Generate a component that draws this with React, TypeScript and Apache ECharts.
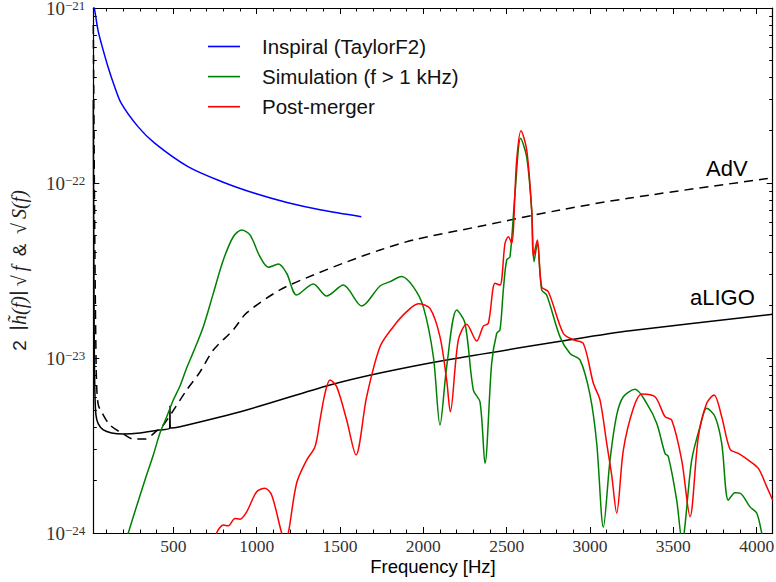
import React, { useEffect, useRef } from "react";
import * as echarts from "echarts";

// Frequency range of the plot [Hz] and strain range
const FREQ_MIN = 20;
const FREQ_MAX = 4096;
const STRAIN_MIN = 1e-24;
const STRAIN_MAX = 1e-21;

// Tick positions
const freqMajorTicks = [500, 1000, 1500, 2000, 2500, 3000, 3500, 4000];
const freqMinorTicks = [
  100, 200, 300, 400, 600, 700, 800, 900, 1100, 1200, 1300, 1400, 1600, 1700, 1800, 1900,
  2100, 2200, 2300, 2400, 2600, 2700, 2800, 2900, 3100, 3200, 3300, 3400, 3600, 3700, 3800,
  3900, 4000,
];
const decadeTicks = [-24, -23, -22, -21];
const logMantissas = [2, 3, 4, 5, 6, 7, 8, 9];

// Series: [frequency Hz, 2|h(f)|sqrt(f) or sqrt(S(f))]
const inspiral: [number, number][] = [
  [22, 1.02e-21], [28, 9.75e-22], [48, 7.48e-22], [68, 6.28e-22], [108, 4.62e-22],
  [148, 3.55e-22], [188, 2.85e-22], [288, 2.1e-22], [388, 1.69e-22], [588, 1.24e-22],
  [788, 1.02e-22], [988, 8.73e-23], [1188, 7.71e-23], [1388, 7.01e-23], [1628, 6.42e-23],
];

const simulation: [number, number][] = [
  [220, 9e-25], [230, 1.0e-24], [330, 2.01e-24], [380, 2.79e-24], [420, 3.73e-24],
  [460, 4.6e-24], [500, 5.75e-24], [540, 6.92e-24], [580, 8.77e-24], [620, 1.08e-23],
  [680, 1.51e-23], [740, 2.34e-23], [800, 3.63e-23], [860, 4.93e-23], [910, 5.38e-23],
  [960, 5.05e-23], [1020, 3.79e-23], [1070, 3.3e-23], [1130, 3.44e-23], [1180, 3.05e-23],
  [1240, 2.29e-23], [1340, 2.65e-23], [1420, 2.26e-23], [1520, 2.61e-23], [1630, 1.98e-23],
  [1740, 2.58e-23], [1800, 2.73e-23], [1870, 2.92e-23], [1940, 2.55e-23], [2000, 1.96e-23],
  [2060, 1.02e-23], [2100, 4.14e-24], [2140, 8.91e-24], [2200, 1.88e-23], [2250, 1.58e-23],
  [2300, 6.56e-24], [2340, 5.61e-24], [2370, 2.5e-24], [2410, 9.33e-24], [2440, 1.38e-23],
  [2460, 1.45e-23], [2480, 2.45e-23], [2500, 3.63e-23], [2520, 3.79e-23], [2550, 8.73e-23],
  [2584, 1.8e-22], [2620, 1.41e-22], [2650, 7.01e-23], [2664, 3.55e-23], [2684, 4.52e-23],
  [2710, 2.45e-23], [2740, 2.29e-23], [2820, 1.32e-23], [2880, 1.06e-23], [2940, 9.75e-24],
  [3000, 6.15e-24], [3040, 3.27e-24], [3080, 1.08e-24], [3120, 2.61e-24], [3160, 4.72e-24],
  [3200, 6.01e-24], [3270, 6.62e-24], [3340, 5.51e-24], [3400, 4.24e-24], [3450, 2.85e-24],
  [3470, 2.73e-24], [3520, 1.54e-24], [3552, 9e-25], [3610, 2.61e-24], [3660, 4.05e-24],
  [3700, 5.16e-24], [3750, 4.62e-24], [3790, 3.26e-24], [3830, 1.54e-24], [3870, 1.7e-24],
  [3900, 1.69e-24], [3960, 1.41e-24], [4000, 1.3e-24], [4030, 1.0e-24], [4050, 8e-25],
];

const postMerger: [number, number][] = [
  [755, 9e-25], [760, 1.0e-24], [800, 1.11e-24], [830, 1.1e-24], [870, 1.21e-24],
  [900, 1.2e-24], [940, 1.32e-24], [1000, 1.72e-24], [1050, 1.8e-24], [1090, 1.65e-24],
  [1150, 1.0e-24], [1170, 9e-25], [1190, 1.0e-24], [1240, 1.93e-24], [1300, 2.61e-24],
  [1350, 3.11e-24], [1380, 4.42e-24], [1410, 6.28e-24], [1440, 7.48e-24], [1480, 6.86e-24],
  [1540, 4.42e-24], [1596, 2.79e-24], [1660, 6.01e-24], [1740, 1.16e-23], [1820, 1.51e-23],
  [1900, 1.84e-23], [1970, 2.04e-23], [2040, 1.92e-23], [2100, 1.32e-23], [2140, 7.48e-24],
  [2162, 4.93e-24], [2210, 1.27e-23], [2260, 1.56e-23], [2320, 1.25e-23], [2360, 1.52e-23],
  [2390, 1.58e-23], [2430, 2.67e-23], [2460, 2.61e-23], [2490, 4.52e-23], [2510, 4.93e-23],
  [2530, 4.52e-23], [2560, 1.35e-22], [2586, 1.99e-22], [2620, 1.55e-22], [2650, 7.01e-23],
  [2660, 3.79e-23], [2684, 4.72e-23], [2710, 2.55e-23], [2750, 2.39e-23], [2840, 1.38e-23],
  [2900, 1.27e-23], [2960, 1.21e-23], [3020, 7.17e-24], [3060, 5.75e-24], [3100, 3.26e-24],
  [3130, 2.14e-24], [3160, 1.3e-24], [3200, 2.98e-24], [3260, 5.16e-24], [3310, 6.23e-24],
  [3390, 6.01e-24], [3450, 4.62e-24], [3490, 4.42e-24], [3550, 2.61e-24], [3600, 1.24e-24],
  [3650, 3.55e-24], [3700, 5.51e-24], [3744, 6.15e-24], [3790, 4.62e-24], [3840, 3.01e-24],
  [3890, 2.85e-24], [3950, 2.61e-24], [4010, 2.34e-24], [4060, 1.84e-24], [4096, 1.54e-24],
];

const aLIGO: [number, number][] = [
  [20, 2.98e-22], [23, 4.14e-23], [26, 1.11e-23], [30, 6.15e-24], [36, 4.72e-24],
  [50, 4.2e-24], [80, 3.88e-24], [130, 3.73e-24], [200, 3.68e-24], [300, 3.73e-24],
  [420, 3.88e-24], [478, 3.98e-24], [480, 5.32e-24], [482, 3.98e-24], [540, 4.05e-24],
  [940, 5.05e-24], [1440, 7.01e-24], [1740, 8.21e-24], [2140, 9.75e-24], [2880, 1.27e-23],
  [3240, 1.43e-23], [4096, 1.78e-23],
];

const adV: [number, number][] = [
  [20, 8.0e-22], [25, 1.55e-22], [30, 3.63e-23], [35, 1.27e-23], [40, 7.01e-24],
  [50, 5.39e-24], [70, 4.91e-24], [120, 4.14e-24], [200, 3.68e-24], [260, 3.44e-24],
  [330, 3.44e-24], [400, 3.83e-24], [440, 4.14e-24], [490, 4.85e-24], [580, 6.56e-24],
  [660, 8.32e-24], [740, 1.11e-23], [860, 1.45e-23], [940, 1.81e-23], [1140, 2.45e-23],
  [1340, 2.98e-23], [1540, 3.54e-23], [1740, 4.14e-23], [1940, 4.72e-23], [2320, 5.61e-23],
  [2820, 7.01e-23], [3240, 8.21e-23], [4096, 1.07e-22],
];

const SERIF = "'Liberation Serif', 'DejaVu Serif', serif";
const SANS = "'Liberation Sans', Arial, sans-serif";

const GRID = { left: 93.3, right: 3.3, top: 8, bottom: 49 };
const WIDTH = 776;
const HEIGHT = 582;

function buildOption() {
  // minor ticks of the log axis, expressed as decimal exponents
  const minorLogTicks: number[] = [];
  decadeTicks.slice(0, -1).forEach((d) =>
    logMantissas.forEach((m) => minorLogTicks.push(d + Math.log10(m)))
  );

  const axisLine = { show: true, lineStyle: { color: "#000", width: 1.2 } };
  const tickLine = { color: "#000", width: 1 };

  const freqAxis = (position: string, major: boolean, extra: any = {}) => ({
    type: "value",
    min: FREQ_MIN,
    max: FREQ_MAX,
    position,
    axisLine: major ? axisLine : { show: false },
    axisTick: {
      show: true,
      inside: true,
      length: major ? 6 : 3.5,
      customValues: major ? freqMajorTicks : freqMinorTicks,
      lineStyle: tickLine,
    },
    axisLabel: { show: false },
    splitLine: { show: false },
    ...extra,
  });

  // log axis carrying the data (line only)
  const strainAxis = (position: string) => ({
    type: "log",
    logBase: 10,
    min: STRAIN_MIN,
    max: STRAIN_MAX,
    position,
    axisLine,
    axisTick: { show: false },
    axisLabel: { show: false },
    splitLine: { show: false },
    minorTick: { show: false },
  });

  // exponent axis aligned with the log axis, used for its ticks and labels
  const exponentAxis = (position: string, major: boolean, extra: any = {}) => ({
    type: "value",
    min: -24,
    max: -21,
    position,
    axisLine: { show: false },
    axisTick: {
      show: true,
      inside: true,
      length: major ? 6 : 3.5,
      customValues: major ? decadeTicks : minorLogTicks,
      lineStyle: tickLine,
    },
    axisLabel: { show: false },
    splitLine: { show: false },
    ...extra,
  });

  const line = (name: string, data: [number, number][], color: string, extra: any = {}) => ({
    name,
    type: "line",
    data,
    xAxisIndex: 0,
    yAxisIndex: 0,
    symbol: "none",
    showSymbol: false,
    smooth: 0.3,
    clip: true,
    silent: true,
    lineStyle: { color, width: 1.5 },
    itemStyle: { color },
    ...extra,
  });

  const plotMidY = GRID.top + (HEIGHT - GRID.top - GRID.bottom) / 2;

  return {
    animation: false,
    backgroundColor: "#fff",
    grid: { ...GRID, containLabel: false, outerBoundsMode: "none" },
    legend: {
      data: ["Inspiral (TaylorF2)", "Simulation (f > 1 kHz)", "Post-merger"],
      orient: "vertical",
      left: 203,
      top: 31,
      icon: "rect",
      itemWidth: 32,
      itemHeight: 1.6,
      itemGap: 9.1,
      selectedMode: false,
      textStyle: {
        fontFamily: SANS,
        fontSize: 20.5,
        lineHeight: 21,
        color: "#111",
        padding: [0, 0, 0, 17],
      },
    },
    xAxis: [
      freqAxis("bottom", true, {
        axisLabel: {
          show: true,
          customValues: freqMajorTicks,
          formatter: (v: number) => String(v),
          fontFamily: SERIF,
          fontSize: 17.5,
          lineHeight: 17,
          color: "#333",
          margin: 4,
        },
        name: "Frequency [Hz]",
        nameLocation: "middle",
        nameGap: 24,
        nameMoveOverlap: false,
        nameTextStyle: { fontFamily: SANS, fontSize: 18.5, lineHeight: 19, color: "#000" },
      }),
      freqAxis("bottom", false),
      freqAxis("top", true),
      freqAxis("top", false),
    ],
    yAxis: [
      strainAxis("left"),
      strainAxis("right"),
      exponentAxis("left", true, {
        axisLabel: {
          show: true,
          customValues: decadeTicks,
          margin: 8,
          formatter: (e: number) => `{b|10}{s|\u2212${Math.abs(Math.round(e))}}`,
          rich: {
            b: {
              fontFamily: SERIF,
              fontSize: 19,
              color: "#333",
              lineHeight: 19,
              padding: [5, 0, 0, 0],
              verticalAlign: "bottom",
            },
            s: { fontFamily: SERIF, fontSize: 13, color: "#333", lineHeight: 13, verticalAlign: "top" },
          },
        },
      }),
      exponentAxis("left", false),
      exponentAxis("right", true),
      exponentAxis("right", false),
    ],
    series: [
      line("aLIGO", aLIGO, "#000"),
      line("AdV", adV, "#000", { lineStyle: { color: "#000", width: 1.5, type: [9, 6] } }),
      line("Inspiral (TaylorF2)", inspiral, "#0000ff"),
      line("Simulation (f > 1 kHz)", simulation, "#008000"),
      line("Post-merger", postMerger, "#ff0000"),
    ],
    graphic: [
      {
        type: "text",
        x: 19,
        y: plotMidY,
        rotation: Math.PI / 2,
        style: {
          text:
            "{r|2\u2002}{i|\u2223h\u0303(f)\u2223\u2009\u221A\u2009f}{r|\u2002&\u2002}{i|\u221A\u2009S(f)}",
          align: "center",
          verticalAlign: "middle",
          textAlign: "center",
          textVerticalAlign: "middle",
          rich: {
            r: { fontFamily: SANS, fontSize: 19, fill: "#222" },
            i: { fontFamily: SERIF, fontStyle: "italic", fontSize: 20, fill: "#222" },
          },
        },
      },
      {
        type: "text",
        left: 706,
        top: 157,
        style: { text: "AdV", font: `22px ${SANS}`, fill: "#000" },
      },
      {
        type: "text",
        left: 690,
        top: 286,
        style: { text: "aLIGO", font: `22px ${SANS}`, fill: "#000" },
      },
    ],
  };
}

export default function App() {
  const ref = useRef<HTMLDivElement>(null);

  useEffect(() => {
    if (!ref.current) return;
    const chart = echarts.init(ref.current, undefined, { renderer: "svg" });
    chart.setOption(buildOption() as any);
    return () => chart.dispose();
  }, []);

  return (
    <div
      ref={ref}
      style={{ position: "fixed", left: 0, top: 0, width: WIDTH, height: HEIGHT, background: "#fff" }}
    />
  );
}
